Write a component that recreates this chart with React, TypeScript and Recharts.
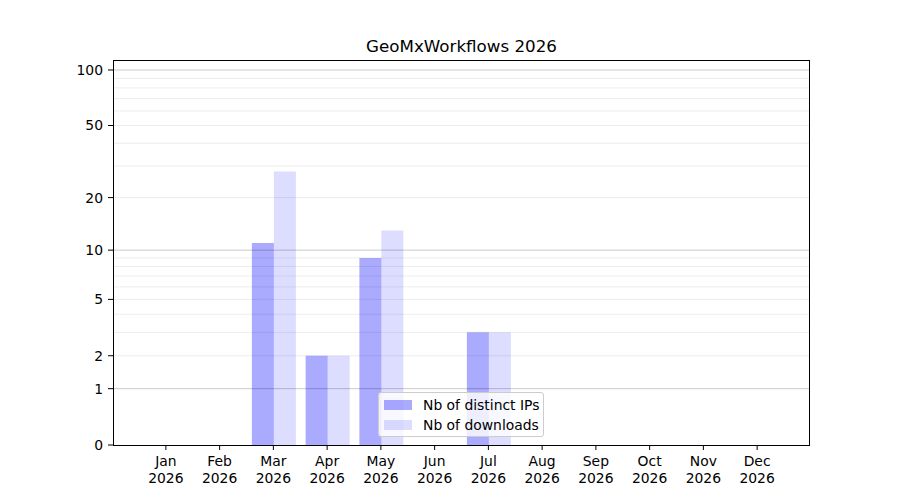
import React from "react";
import { Bar, BarChart, ReferenceLine, XAxis, YAxis } from "recharts";

const months = ["Jan", "Feb", "Mar", "Apr", "May", "Jun", "Jul", "Aug", "Sep", "Oct", "Nov", "Dec"];
const year = "2026";
const distinctIps = [0, 0, 11, 2, 9, 0, 3, 0, 0, 0, 0, 0];
const downloads = [0, 0, 28, 2, 13, 0, 3, 0, 0, 0, 0, 0];
const yTicks = [0, 1, 2, 5, 10, 20, 50, 100];
const majorGrid = [1, 10, 100];
const minorGrid = [2, 3, 4, 5, 6, 7, 8, 9, 20, 30, 40, 50, 60, 70, 80, 90];
const yTop = 113.2;

const seriesNames = ["Nb of distinct IPs", "Nb of downloads"];
const ipsColor = "#0000ff";
const ipsAlpha = 0.333;
const dlAlpha = 0.133;

// symlog-like axis: plot log10(1 + v)
const toAxis = (v: number) => Math.log10(1 + v);
const fromAxis = (a: number) => Math.round(Math.pow(10, a) - 1);

const data = months.map((m, i) => ({
  month: m,
  ips: toAxis(distinctIps[i]),
  downloads: toAxis(downloads[i]),
}));

const font = "DejaVu Sans, sans-serif";

function MonthTick(props: any) {
  const { x, y, payload } = props;
  return (
    <text x={x} y={y} textAnchor="middle" fontSize={13.9} fill="#000" fontFamily={font}>
      <tspan x={x} dy={14}>
        {payload.value}
      </tspan>
      <tspan x={x} dy={16.5}>
        {year}
      </tspan>
    </text>
  );
}

export default function App() {
  const plot = { left: 113, top: 60, right: 810, bottom: 445 };

  return (
    <div
      style={{
        position: "absolute",
        left: 0,
        top: 0,
        width: 900,
        height: 500,
        background: "#fff",
        fontFamily: font,
      }}
    >
      <div
        style={{
          position: "absolute",
          left: plot.left,
          width: plot.right - plot.left,
          top: 36,
          textAlign: "center",
          fontSize: 16.7,
          lineHeight: "20px",
          color: "#000",
        }}
      >
        GeoMxWorkflows 2026
      </div>

      <BarChart
        width={900}
        height={500}
        data={data}
        margin={{ top: 60, right: 90, left: 53, bottom: 0 }}
        barCategoryGap="10%"
        barGap={0}
      >
        <XAxis
          dataKey="month"
          height={55}
          axisLine={false}
          tickLine={{ stroke: "#000" }}
          tickSize={5}
          tickMargin={2}
          padding={{ left: 26, right: 26 }}
          interval={0}
          tick={<MonthTick />}
        />
        <YAxis
          type="number"
          width={60}
          domain={[0, toAxis(yTop)]}
          allowDataOverflow
          ticks={yTicks.map(toAxis)}
          tickFormatter={(v: number) => String(fromAxis(v))}
          axisLine={false}
          tickLine={{ stroke: "#000" }}
          tickSize={5}
          tickMargin={5}
          tick={{ fill: "#000", fontSize: 13.9, fontFamily: font }}
        />
        {minorGrid.map((v) => (
          <ReferenceLine key={`mi${v}`} y={toAxis(v)} stroke="#000" strokeOpacity={0.075} strokeWidth={1} />
        ))}
        {majorGrid.map((v) => (
          <ReferenceLine key={`ma${v}`} y={toAxis(v)} stroke="#000" strokeOpacity={0.21} strokeWidth={1} />
        ))}
        <Bar dataKey="ips" name={seriesNames[0]} fill={ipsColor} fillOpacity={ipsAlpha} isAnimationActive={false} />
        <Bar dataKey="downloads" name={seriesNames[1]} fill={ipsColor} fillOpacity={dlAlpha} isAnimationActive={false} />
      </BarChart>

      <div
        style={{
          position: "absolute",
          left: plot.left,
          top: plot.top,
          width: plot.right - plot.left,
          height: plot.bottom - plot.top + 1,
          border: "1px solid #000",
          boxSizing: "border-box",
          pointerEvents: "none",
        }}
      />

      <div
        style={{
          position: "absolute",
          left: 378,
          top: 392,
          width: 166,
          height: 45,
          boxSizing: "border-box",
          border: "1px solid #cccccc",
          borderRadius: 3,
          background: "rgba(255,255,255,0.8)",
          fontSize: 13.9,
          color: "#000",
        }}
      >
        {seriesNames.map((name, i) => (
          <div
            key={name}
            style={{ position: "absolute", left: 5, top: 5 + i * 20, height: 14, display: "flex", alignItems: "center" }}
          >
            <div
              style={{
                width: 28,
                height: 10,
                background: ipsColor,
                opacity: i === 0 ? ipsAlpha : dlAlpha,
              }}
            />
            <span style={{ marginLeft: 11, whiteSpace: "nowrap", lineHeight: "14px" }}>{name}</span>
          </div>
        ))}
      </div>
    </div>
  );
}
